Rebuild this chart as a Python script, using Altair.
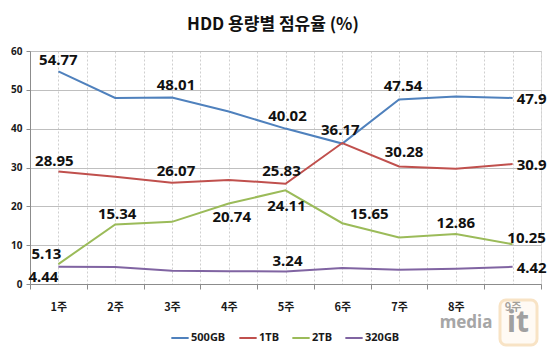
import altair as alt
import pandas as pd

weeks = [1, 2, 3, 4, 5, 6, 7, 8, 9]
series_names = ["500GB", "1TB", "2TB", "320GB"]
series_colors = ["#4F81BD", "#C0504D", "#9BBB59", "#8064A2"]
v500 = [54.77, 47.9, 48.01, 44.4, 40.02, 36.17, 47.54, 48.3, 47.9]
v1tb = [28.95, 27.6, 26.07, 26.8, 25.83, 36.3, 30.28, 29.7, 30.9]
v2tb = [5.13, 15.34, 16.0, 20.74, 24.11, 15.65, 12.0, 12.86, 10.25]
v320 = [4.44, 4.35, 3.4, 3.3, 3.24, 4.1, 3.7, 3.9, 4.42]
title_text = "HDD 용량별 점유율 (%)"

# labelled points: (series, week, shown value)
label_points = [
    ("500GB", 1, 54.77), ("500GB", 3, 48.01), ("500GB", 5, 40.02), ("500GB", 6, 36.17),
    ("500GB", 7, 47.54), ("500GB", 9, 47.9),
    ("1TB", 1, 28.95), ("1TB", 3, 26.07), ("1TB", 5, 25.83), ("1TB", 7, 30.28), ("1TB", 9, 30.9),
    ("2TB", 1, 5.13), ("2TB", 2, 15.34), ("2TB", 4, 20.74), ("2TB", 5, 24.11),
    ("2TB", 6, 15.65), ("2TB", 8, 12.86), ("2TB", 9, 10.25),
    ("320GB", 1, 4.44), ("320GB", 5, 3.24), ("320GB", 9, 4.42),
]
# label placement offsets in pixels (style)
label_offsets = [
    (0, -11), (4, -13), (2, -13), (-2, -14), (4, -13), (19, 1),
    (-4, -11), (4, -12), (-4, -13), (5, -14), (19, 1),
    (-12, -10), (2, -10), (3, 14), (1, 16), (27, -9), (0, -11), (14, -6),
    (-15, 10), (2, -10), (19, 1),
]

rows = []
for name, vals in zip(series_names, [v500, v1tb, v2tb, v320]):
    for w, v in zip(weeks, vals):
        rows.append({"series": name, "week": w, "value": v})
df = pd.DataFrame(rows)

lab = pd.DataFrame([
    {"series": s, "week": w, "value": v, "text": str(v), "dx": o[0], "dy": o[1]}
    for (s, w, v), o in zip(label_points, label_offsets)
])

tick_vals = [x / 2 for x in range(1, 20)]
x_scale = alt.Scale(domain=[0.5, 9.5], nice=False, zero=False)
y_scale = alt.Scale(domain=[0, 60], nice=False)

x_axis = alt.Axis(
    values=tick_vals,
    labelExpr="datum.value % 1 == 0 ? datum.value + '주' : ''",
    grid=True, gridDash=[2, 2], gridColor="#cfcfcf",
    tickColor={"expr": "datum.value % 1 == 0 ? 'transparent' : '#8c8c8c'"},
    tickSize=5, domainColor="#8c8c8c",
    labelFont="Noto Sans CJK KR", labelFontSize=11, labelFontWeight="bold",
    labelColor="#1a1a1a", labelPadding=12, labelFlush=False, title=None,
    labelOverlap=False,
)
y_axis = alt.Axis(
    values=[0, 10, 20, 30, 40, 50, 60], grid=True, gridColor="#bfbfbf",
    domainColor="#8c8c8c", tickColor="#8c8c8c", tickSize=4,
    labelFont="Noto Sans", labelFontSize=10, labelFontWeight="bold",
    labelColor="#1a1a1a", labelPadding=4, title=None,
)

color = alt.Color(
    "series:N",
    scale=alt.Scale(domain=series_names, range=series_colors),
    sort=series_names,
    legend=alt.Legend(
        title=None, orient="none", legendX=140, legendY=277, direction="horizontal",
        symbolType="stroke", symbolSize=300, symbolStrokeWidth=2,
        labelFont="Noto Sans", labelFontSize=11, labelFontWeight="bold",
        labelColor="#1a1a1a", columnPadding=9, labelOffset=1,
    ),
)

lines = alt.Chart(df).mark_line(strokeWidth=2).encode(
    x=alt.X("week:Q", scale=x_scale, axis=x_axis),
    y=alt.Y("value:Q", scale=y_scale, axis=y_axis),
    color=color,
    detail="series:N",
)

labels = alt.Chart(lab).mark_text(
    font="Noto Sans", fontSize=15, fontWeight="bold", color="#111111",
    baseline="middle", align="center",
    dx={"expr": "datum.dx"}, dy={"expr": "datum.dy"},
).encode(
    x=alt.X("week:Q", scale=x_scale, axis=x_axis),
    y=alt.Y("value:Q", scale=y_scale, axis=y_axis),
    text="text:N",
)

title = alt.Chart(pd.DataFrame({"t": [title_text]})).mark_text(
    font="Noto Sans CJK KR", fontSize=17, fontWeight="bold", color="#111111",
    baseline="middle", align="center",
).encode(x=alt.value(243), y=alt.value(-26), text="t:N")

wm_box = alt.Chart(pd.DataFrame({"a": [0]})).mark_rect(
    cornerRadius=6, fill="#fff8ee", stroke="#f5d2a0", strokeWidth=3, opacity=0.6
).encode(x=alt.value(470), x2=alt.value(507), y=alt.value(249), y2=alt.value(294))

wm_media = alt.Chart(pd.DataFrame({"t": ["media"]})).mark_text(
    font="Noto Sans", fontSize=17, fontWeight="bold", color="#a6a6a6",
    baseline="middle", align="center",
).encode(x=alt.value(436), y=alt.value(272), text="t:N")

wm_it = alt.Chart(pd.DataFrame({"t": ["it"]})).mark_text(
    font="Noto Sans", fontSize=30, fontWeight="bold", color="#a0a0a0",
    baseline="middle", align="center",
).encode(x=alt.value(488), y=alt.value(272), text="t:N")

chart = alt.layer(lines, wm_box, wm_media, wm_it, labels, title).properties(
    width=511, height=233,
    autosize=alt.AutoSizeParams(type="none"),
    padding={"left": 30, "top": 51, "right": 9, "bottom": 67},
).configure_view(stroke=None).configure(background="white")

chart.save("out.html", embed_options={"renderer": "svg", "actions": False})
